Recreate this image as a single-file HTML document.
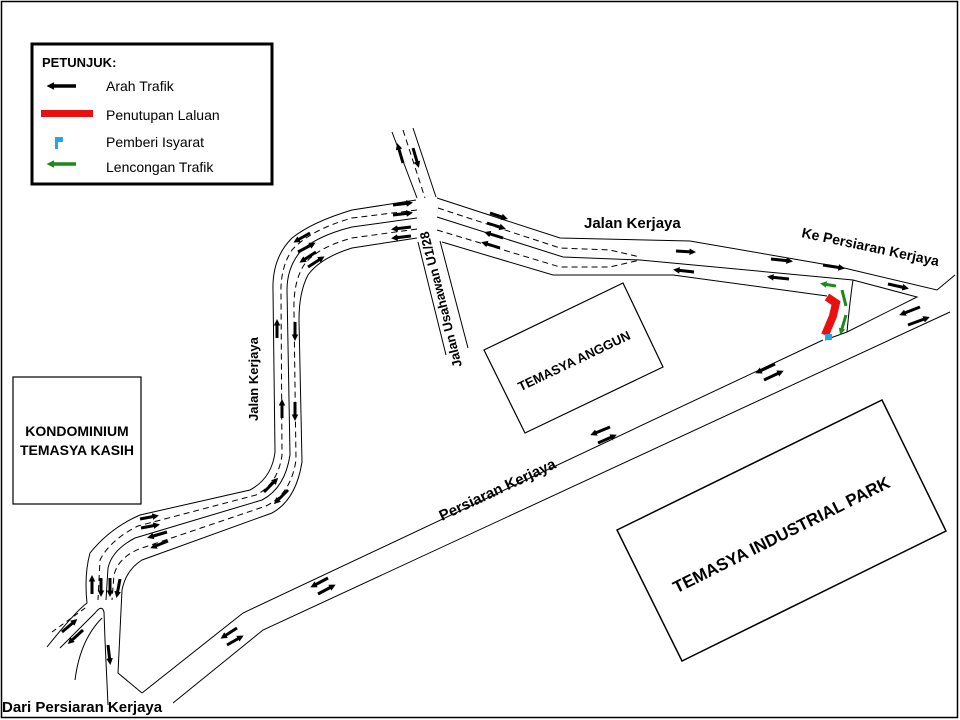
<!DOCTYPE html>
<html><head><meta charset="utf-8"><style>
html,body{margin:0;padding:0;background:#fff}
svg{display:block}
text{font-family:"Liberation Sans",sans-serif}
</style></head><body>
<svg width="960" height="720" viewBox="0 0 960 720" xmlns="http://www.w3.org/2000/svg">
<defs>
<marker id="ah" markerWidth="3" markerHeight="3" refX="1.2" refY="1.5" orient="auto" markerUnits="strokeWidth"><path d="M0,0.4 L2.2,1.5 L0,2.6z" fill="#000"/></marker>
<marker id="gh" markerWidth="3" markerHeight="3" refX="1.2" refY="1.5" orient="auto" markerUnits="strokeWidth"><path d="M0,0.4 L2.2,1.5 L0,2.6z" fill="#1a8a1a"/></marker>
</defs>
<rect x="1.5" y="1.5" width="956" height="716" fill="#fff" stroke="#000" stroke-width="1.5"/>

<!-- Legend -->
<rect x="32" y="44" width="240" height="140" fill="#fff" stroke="#000" stroke-width="3"/>
<text x="42" y="67" font-size="13" font-weight="bold">PETUNJUK:</text>
<line x1="76" y1="86" x2="50" y2="86" stroke="#000" stroke-width="3.5" marker-end="url(#ah)"/>
<text x="106" y="91" font-size="14">Arah Trafik</text>
<rect x="41" y="110" width="52" height="7" fill="#e81010"/>
<text x="106" y="120" font-size="14">Penutupan  Laluan</text>
<path d="M55,137 h8 v5 h-5 v7 h-3z" fill="#22a8e8"/>
<text x="106" y="147" font-size="14">Pemberi  Isyarat</text>
<line x1="76" y1="164" x2="50" y2="164" stroke="#1a8a1a" stroke-width="3.5" marker-end="url(#gh)"/>
<text x="106" y="172" font-size="14">Lencongan Trafik</text>

<!-- Buildings -->
<rect x="13" y="377" width="128" height="127" fill="none" stroke="#000" stroke-width="1.2"/>
<text x="77" y="436" font-size="14" font-weight="bold" text-anchor="middle">KONDOMINIUM</text>
<text x="77" y="455" font-size="14" font-weight="bold" text-anchor="middle">TEMASYA KASIH</text>
<polygon points="484,350 623,283 663,367 525,433" fill="none" stroke="#000" stroke-width="1.2"/>
<text x="0" y="0" font-size="13" font-weight="bold" text-anchor="middle" transform="translate(576,365) rotate(-25.5)">TEMASYA ANGGUN</text>
<polygon points="617,530 882,400 946,531 682,661" fill="none" stroke="#000" stroke-width="1.5"/>
<text x="0" y="0" font-size="17" font-weight="bold" text-anchor="middle" transform="translate(784,540) rotate(-26.5)">TEMASYA INDUSTRIAL PARK</text>

<g fill="none" stroke="#000" stroke-width="1">
<path d="M392,132 L417,198"/><path d="M413,128 L436,197"/>
<path d="M403,130 L425,198" stroke-dasharray="6,4"/>
<path d="M418,242 L446,355"/><path d="M440,241 L468,348"/>
<path d="M416,200 L352,210 Q312,222 292,238 Q272,258 273,290 L275,452 Q272,478 250,490 L140,515 Q110,528 90,553 Q84,575 87,603 Q75,612 47,647"/>
<path d="M417,218 L352,227 Q316,236 300,252 Q287,268 287,290 L290,455 Q285,488 262,500 L135,538 Q112,550 108,568 L106,600"/>
<path d="M417,238 L352,248 Q320,258 308,275 Q299,292 299,320 L302,462 Q296,500 272,513 L142,560 Q126,570 122,590 L118,673 L142,693"/>
<path d="M417,210 L352,218 Q310,230 292,250 Q280,268 281,295 L282,455 Q278,484 256,495 L138,526 Q110,540 100,560 L98,600" stroke-dasharray="6,4"/>
<path d="M417,229 L352,238 Q316,248 304,265 Q293,282 294,312 L296,460 Q291,494 266,506 L139,549 Q118,558 114,575 L112,600" stroke-dasharray="6,4"/>
<path d="M60,648 L95,613 Q102,604 104,612 L105,640 L108,705"/>
<path d="M52,632 L88,606" stroke-dasharray="5,4"/>
<path d="M75,680 Q80,640 102,618"/>
<path d="M142,693 L243,613 L823,340"/>
<path d="M173,703 L263,630 L950,312"/>
<path d="M825,340 L847,332 L917,297 L853,280 Q850,300 847,332"/>
<path d="M437,198 L560,238 L690,241 L840,267 L937,290 L955,275"/>
<path d="M437,217 L563,257 L640,260 L853,280"/>
<path d="M442,242 L553,275 L673,275 L827,296"/>
<path d="M438,208 L560,248 L610,250 L640,257" stroke-dasharray="6,4"/>
<path d="M437,230 L560,267 L610,267 L640,260" stroke-dasharray="6,4"/>
</g>

<path d="M827,297 L836,303 L833,316 L825,335" fill="none" stroke="#e81010" stroke-width="8"/>
<rect x="825" y="334" width="7" height="6" fill="#22a8e8"/>
<g stroke="#1a8a1a" stroke-width="3" fill="none">
<line x1="836" y1="286" x2="823" y2="284" marker-end="url(#gh)"/>
<line x1="842" y1="290" x2="846" y2="306"/>
<line x1="846" y1="315" x2="841" y2="332" marker-end="url(#gh)"/>
</g>

<g stroke="#000" stroke-width="3" fill="none" marker-end="url(#ah)">
<line x1="403" y1="163" x2="398" y2="146"/><line x1="413" y1="148" x2="418" y2="165"/>
<line x1="393" y1="205" x2="410" y2="203"/><line x1="393" y1="215" x2="410" y2="213"/>
<line x1="411" y1="227" x2="394" y2="229"/><line x1="411" y1="236" x2="394" y2="238"/>
<line x1="310" y1="233" x2="296" y2="241"/><line x1="298" y1="252" x2="313" y2="244"/>
<line x1="316" y1="252" x2="302" y2="261"/><line x1="308" y1="267" x2="322" y2="258"/>
<line x1="277" y1="338" x2="277" y2="322"/><line x1="295" y1="322" x2="295" y2="338"/>
<line x1="282" y1="418" x2="282" y2="402"/><line x1="295" y1="402" x2="295" y2="418"/>
<line x1="264" y1="492" x2="276" y2="480"/><line x1="288" y1="490" x2="276" y2="502"/>
<line x1="140" y1="519" x2="156" y2="516"/><line x1="141" y1="528" x2="157" y2="525"/>
<line x1="167" y1="532" x2="150" y2="537"/><line x1="168" y1="541" x2="153" y2="547"/>
<line x1="92" y1="594" x2="92" y2="578"/><line x1="101" y1="578" x2="101" y2="594"/>
<line x1="110" y1="578" x2="110" y2="594"/><line x1="120" y1="579" x2="117" y2="595"/>
<line x1="62" y1="632" x2="75" y2="621"/><line x1="83" y1="630" x2="70" y2="642"/>
<line x1="108" y1="645" x2="110" y2="662"/>
<line x1="490" y1="213" x2="505" y2="218"/><line x1="487" y1="223" x2="503" y2="228"/>
<line x1="503" y1="238" x2="487" y2="233"/><line x1="500" y1="248" x2="484" y2="243"/>
<line x1="676" y1="251" x2="693" y2="252"/><line x1="694" y1="272" x2="676" y2="270"/>
<line x1="771" y1="259" x2="790" y2="261"/><line x1="789" y1="279" x2="770" y2="277"/>
<line x1="823" y1="265" x2="842" y2="268"/><line x1="888" y1="284" x2="906" y2="288"/>
<line x1="920" y1="307" x2="902" y2="314"/><line x1="908" y1="325" x2="927" y2="318"/>
<line x1="775" y1="364" x2="758" y2="372"/><line x1="764" y1="380" x2="781" y2="372"/>
<line x1="610" y1="427" x2="593" y2="434"/><line x1="598" y1="443" x2="614" y2="436"/>
<line x1="328" y1="578" x2="313" y2="586"/><line x1="318" y1="594" x2="333" y2="586"/>
<line x1="237" y1="628" x2="223" y2="637"/><line x1="227" y1="645" x2="241" y2="637"/>
</g>

<text x="584" y="228" font-size="15" font-weight="bold">Jalan Kerjaya</text>
<text x="0" y="0" font-size="14" font-weight="bold" transform="translate(801,237) rotate(12)">Ke Persiaran Kerjaya</text>
<text x="0" y="0" font-size="13" font-weight="bold" transform="translate(462,366) rotate(-104)">Jalan Usahawan U1/28</text>
<text x="0" y="0" font-size="13" font-weight="bold" transform="translate(258,421) rotate(-90)">Jalan Kerjaya</text>
<text x="0" y="0" font-size="15" font-weight="bold" transform="translate(442,521) rotate(-25)">Persiaran Kerjaya</text>
<text x="2" y="712" font-size="15" font-weight="bold">Dari Persiaran Kerjaya</text>
</svg>
</body></html>
